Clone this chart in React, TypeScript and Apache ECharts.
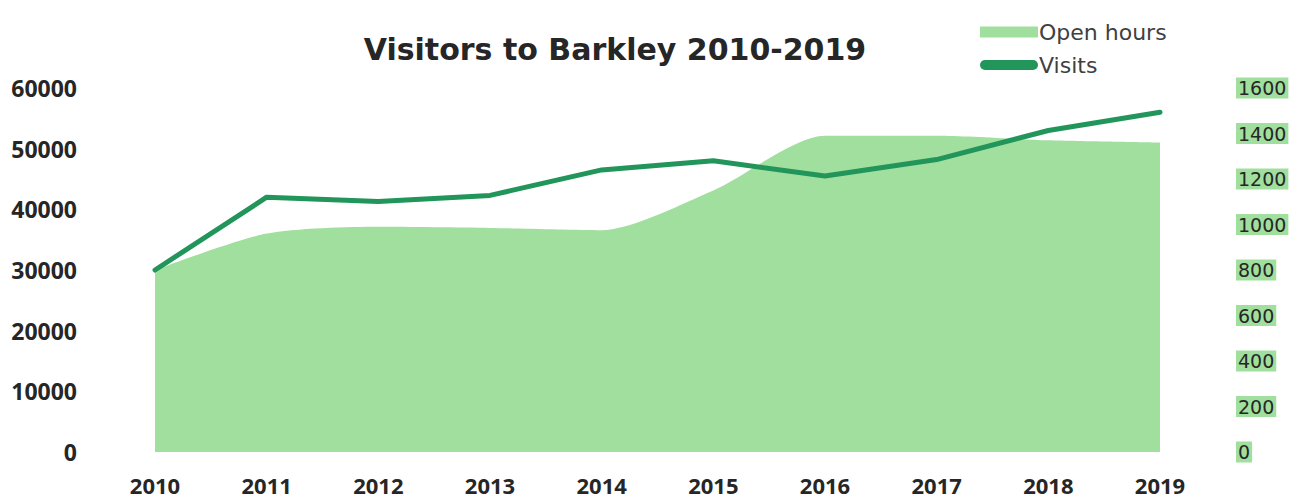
import React, { useEffect, useRef } from "react";
import * as echarts from "echarts";

const years = ["2010", "2011", "2012", "2013", "2014", "2015", "2016", "2017", "2018", "2019"];
const visits = [30000, 42000, 41300, 42300, 46500, 48000, 45500, 48200, 53000, 56000];
const openHours = [800, 960, 990, 985, 975, 1150, 1390, 1390, 1370, 1360];

const AREA = "#a0df9d";
const LINE = "#22955b";
const TEXT = "#262626";
const BOLD_FONT = "'Open Sans', Lato, sans-serif";
const WIDE_FONT = "'DejaVu Sans', sans-serif";

export default function App() {
  const ref = useRef<HTMLDivElement>(null);
  useEffect(() => {
    if (!ref.current) return;
    const chart = echarts.init(ref.current, null, { renderer: "svg" });
    chart.setOption({
      animation: false,
      backgroundColor: "#ffffff",
      title: {
        text: "Visitors to Barkley 2010-2019",
        left: 610,
        textAlign: "center",
        top: 29,
        textStyle: { fontFamily: WIDE_FONT, fontWeight: "bold", fontSize: 30, color: TEXT },
      },
      legend: {
        orient: "vertical",
        left: 975,
        top: 16,
        itemWidth: 58,
        itemHeight: 11,
        itemGap: 11,
        textStyle: { fontFamily: WIDE_FONT, fontSize: 22, color: "#404040", padding: [0, 0, 0, -4] },
        data: [
          { name: "Open hours", icon: "rect" },
          { name: "Visits", icon: "path://M5,0 L53,0 A5,5 0 0 1 53,10 L5,10 A5,5 0 0 1 5,0 Z" },
        ],
      },
      grid: { left: 155, right: 139, top: 88, bottom: 48, containLabel: false },
      xAxis: {
        type: "category",
        data: years,
        boundaryGap: false,
        axisLine: { show: false },
        axisTick: { show: false },
        axisLabel: {
          margin: 22,
          fontFamily: BOLD_FONT,
          fontWeight: "bold",
          fontSize: 22,
          lineHeight: 22,
          color: TEXT,
        },
      },
      yAxis: [
        {
          type: "value",
          min: 0,
          max: 60000,
          interval: 10000,
          splitLine: { show: false },
          axisLine: { show: false },
          axisTick: { show: false },
          axisLabel: {
            margin: 78,
            fontFamily: BOLD_FONT,
            fontWeight: "bold",
            fontSize: 23,
            color: TEXT,
            formatter: (v: number) => String(v),
          },
        },
        {
          type: "value",
          min: 0,
          max: 1600,
          interval: 200,
          position: "right",
          splitLine: { show: false },
          axisLine: { show: false },
          axisTick: { show: false },
          axisLabel: {
            margin: 76,
            fontFamily: WIDE_FONT,
            fontSize: 19,
            color: TEXT,
            backgroundColor: AREA,
            padding: [1, 2, 1, 2],
            formatter: (v: number) => String(v),
          },
        },
      ],
      series: [
        {
          name: "Open hours",
          type: "line",
          yAxisIndex: 1,
          data: openHours,
          smooth: 0.25,
          symbol: "none",
          lineStyle: { width: 0, color: AREA },
          itemStyle: { color: AREA },
          areaStyle: { color: AREA, opacity: 1 },
          z: 1,
        },
        {
          name: "Visits",
          type: "line",
          yAxisIndex: 0,
          data: visits,
          symbol: "none",
          lineStyle: { width: 5, color: LINE, cap: "round", join: "round" },
          itemStyle: { color: LINE },
          z: 2,
        },
      ],
    });
    return () => chart.dispose();
  }, []);
  return (
    <div
      ref={ref}
      style={{ position: "fixed", left: 0, top: 0, width: 1299, height: 500 }}
    />
  );
}
